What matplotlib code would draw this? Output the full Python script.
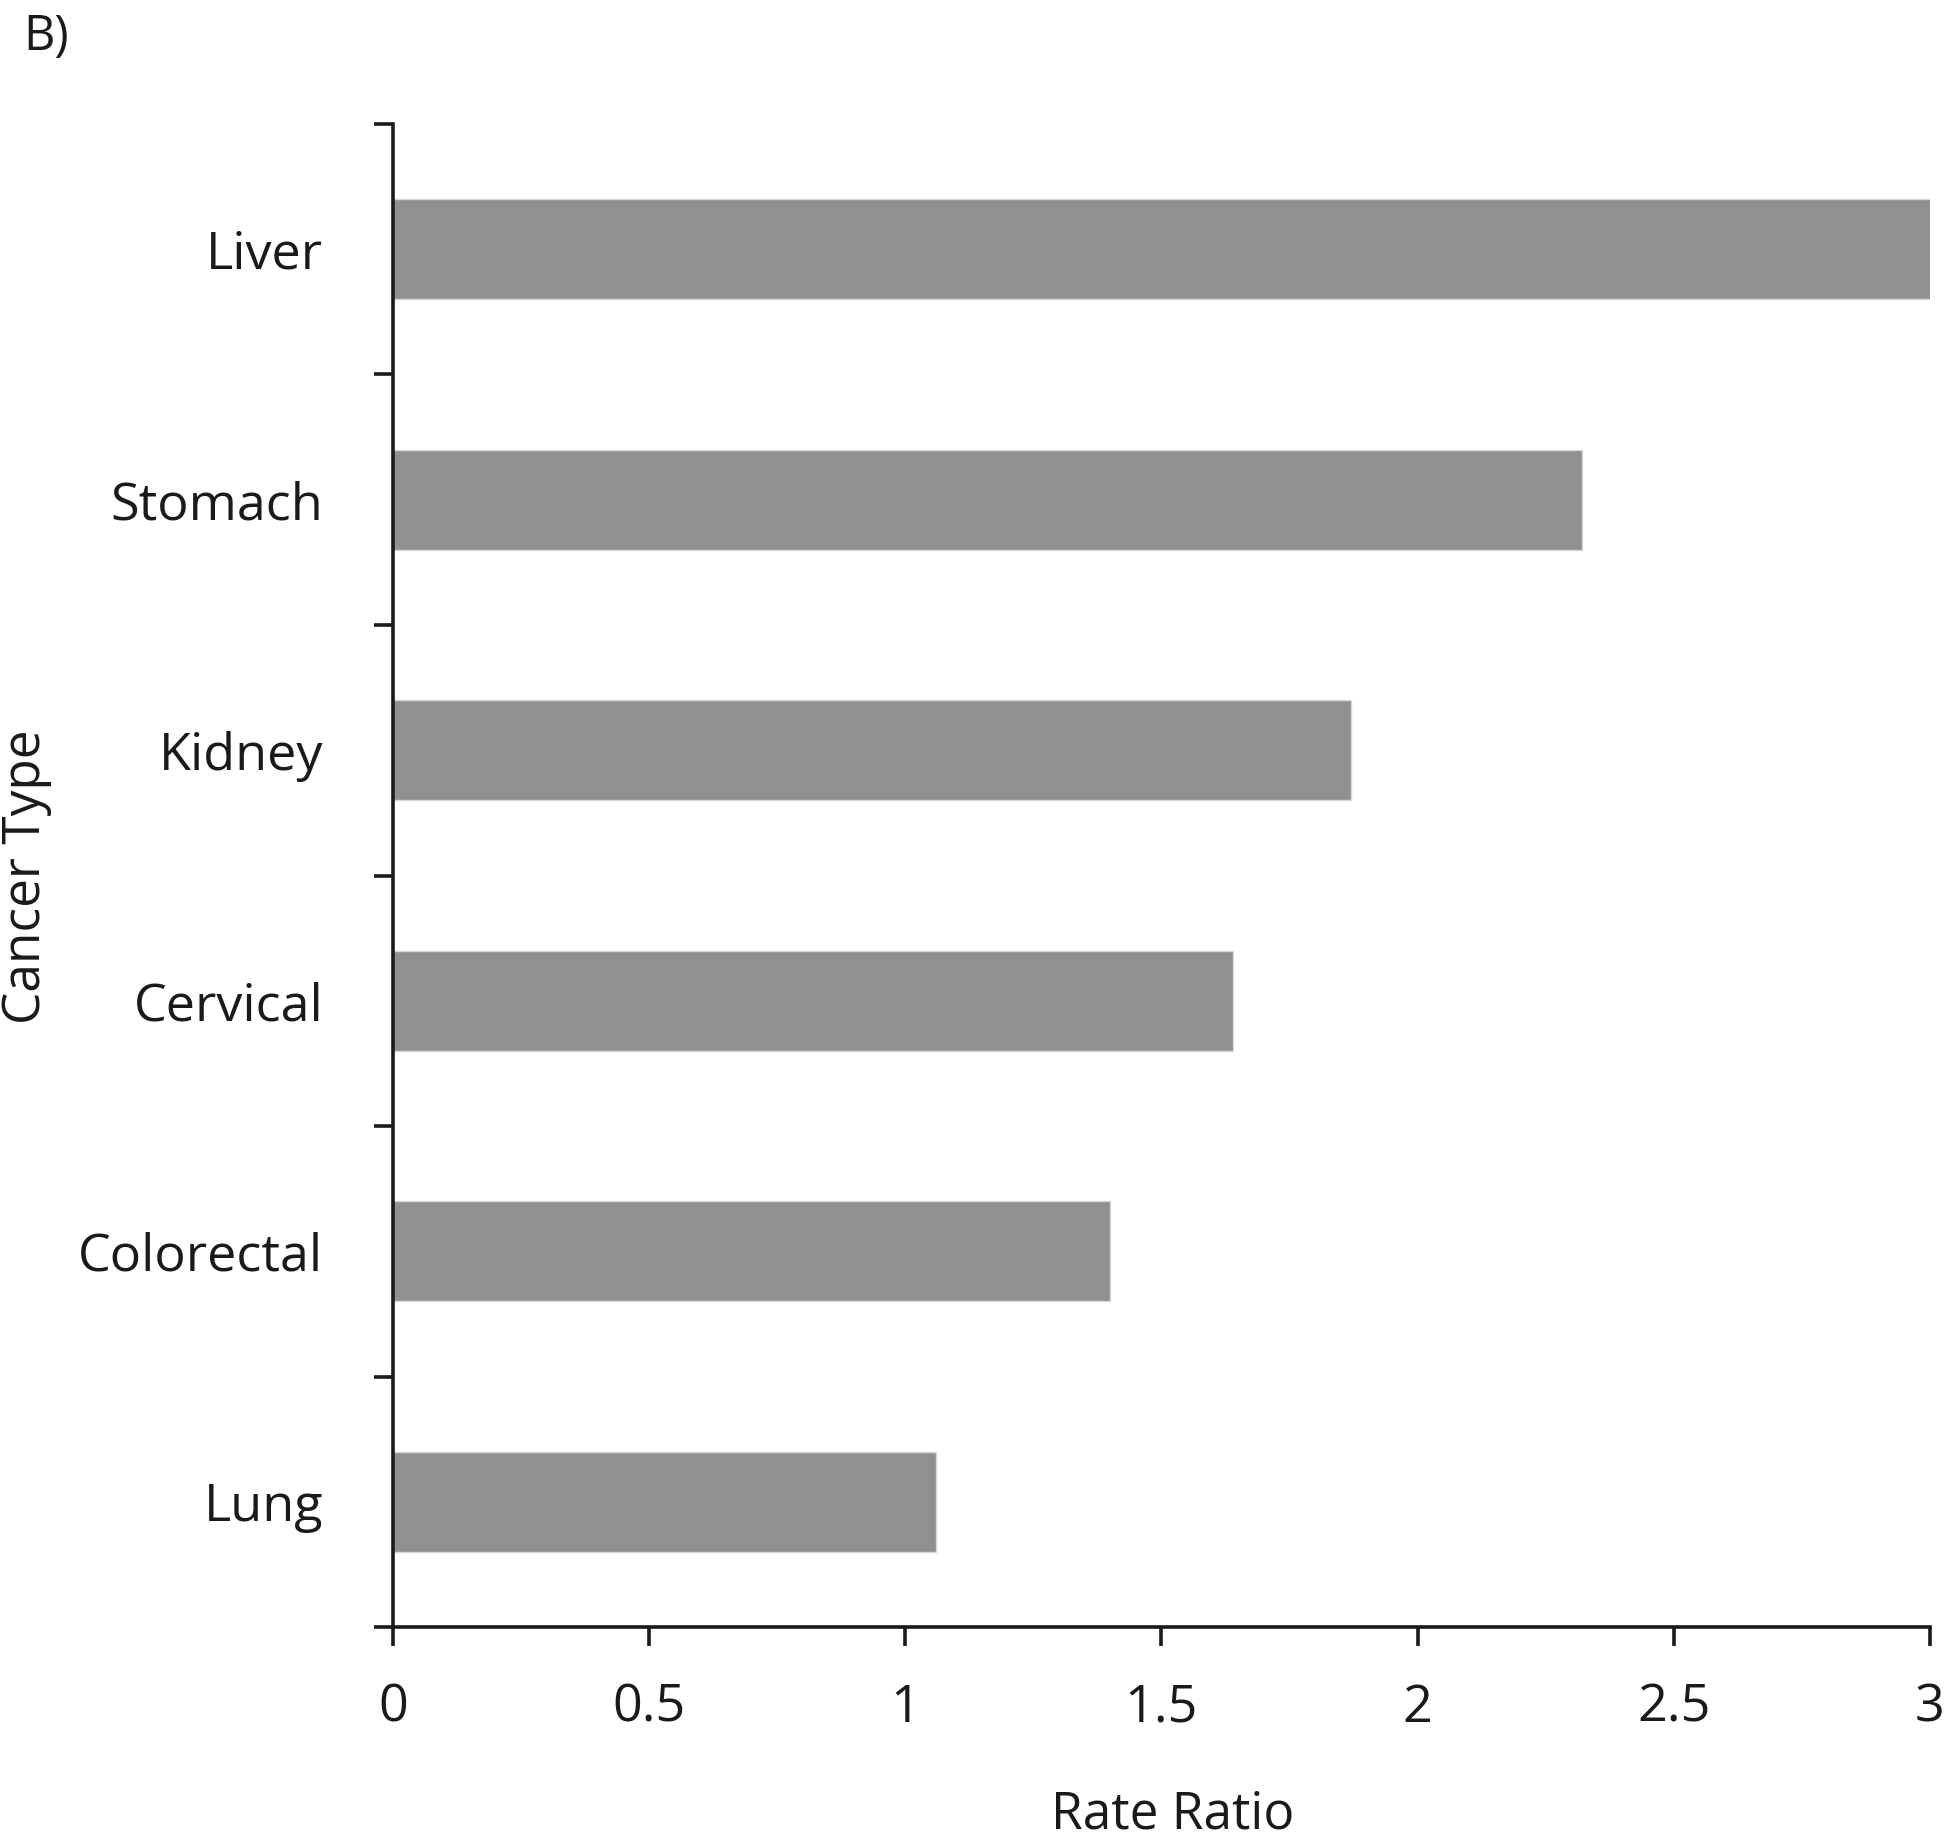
import numpy as np
import matplotlib.pyplot as plt

plt.rcParams['font.family'] = ['Open Sans', 'DejaVu Sans']

cancer_types = ['Lung', 'Colorectal', 'Cervical', 'Kidney', 'Stomach', 'Liver']
rate_ratio = [1.06, 1.40, 1.64, 1.87, 2.32, 3.01]
x_ticks = [0, 0.5, 1, 1.5, 2, 2.5, 3]
x_tick_labels = ['0', '0.5', '1', '1.5', '2', '2.5', '3']

fig = plt.figure(figsize=(19.5, 18.42), dpi=100)
ax = fig.add_axes([0.2015, 0.1167, 0.7882, 0.816])

pos = np.arange(len(cancer_types))
ax.barh(pos, rate_ratio, height=0.4, color='#909090', edgecolor='#d8d8d8', lw=1.0, zorder=2)

ax.set_xlim(0, 3)
ax.set_ylim(-0.5, len(cancer_types) - 0.5)

# category boundaries get the ticks, labels sit in between
ax.set_yticks(np.arange(-0.5, len(cancer_types)), [''] * (len(cancer_types) + 1))
ax.set_yticks(pos, cancer_types, minor=True)
ax.tick_params(axis='y', which='major', direction='out', length=14, width=2.6, color='#1a1a1a')
ax.tick_params(axis='y', which='minor', length=0, pad=50, labelsize=37.5, labelcolor='#1a1a1a')

ax.set_xticks(x_ticks, x_tick_labels)
ax.tick_params(axis='x', direction='out', length=14, width=2.6, pad=26, labelsize=37.5,
               color='#1a1a1a', labelcolor='#1a1a1a')

for s in ['top', 'right']:
    ax.spines[s].set_visible(False)
for s in ['left', 'bottom']:
    ax.spines[s].set_linewidth(2.6)
    ax.spines[s].set_color('#1a1a1a')

fig.text(0.0138, 0.524, 'Cancer Type', rotation=90, ha='center', va='center', fontsize=37, color='#1a1a1a')
fig.text(0.6015, 0.0075, 'Rate Ratio', ha='center', va='baseline', fontsize=37, color='#1a1a1a')
fig.text(0.012, 0.98, 'B)', ha='left', va='center', fontsize=35, color='#1a1a1a')

fig.savefig('out.png', dpi=100)
